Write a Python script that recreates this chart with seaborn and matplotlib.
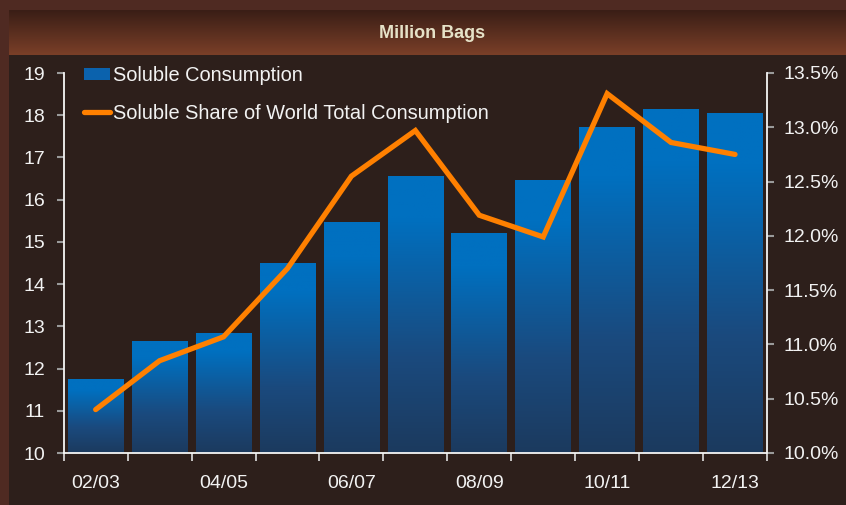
import numpy as np
import pandas as pd
import matplotlib
matplotlib.use("Agg")
import matplotlib.pyplot as plt
import seaborn as sns
from matplotlib.colors import LinearSegmentedColormap, to_rgb
from matplotlib.patches import Patch
from matplotlib.lines import Line2D

# ---- data ----
seasons = ["02/03", "03/04", "04/05", "05/06", "06/07", "07/08",
           "08/09", "09/10", "10/11", "11/12", "12/13"]
consumption = [11.73, 12.63, 12.82, 14.48, 15.45, 16.56,
               15.19, 16.45, 17.72, 18.13, 18.03]
share_pct = [10.40, 10.85, 11.07, 11.70, 12.55, 12.97,
             12.19, 11.99, 13.31, 12.86, 12.75]
left_ticks = list(range(10, 20))
right_ticks = [10.0, 10.5, 11.0, 11.5, 12.0, 12.5, 13.0, 13.5]
bar_label = "Soluble Consumption"
line_label = "Soluble Share of World Total Consumption"
title = "Million Bags"

sns.set_theme(style="white")
plt.rcParams["font.family"] = ["Liberation Sans", "DejaVu Sans"]

FS = 14
W, H = 846, 505
fig = plt.figure(figsize=(W / 100, H / 100), dpi=100)
fig.patch.set_facecolor("#4f2a22")

# dark panel background
bg = fig.add_axes([9 / W, 0, (W - 9) / W, (H - 55) / H])
bg.set_facecolor("#2d1f1b")
bg.set_xticks([]); bg.set_yticks([])
for s in bg.spines.values():
    s.set_visible(False)
bg.set_zorder(-2)

# title band gradient
tb = fig.add_axes([9 / W, 1 - 55 / H, (W - 9) / W, 45 / H])
top_c, bot_c = np.array(to_rgb("#3a1e16")), np.array(to_rgb("#7a3f28"))
t = np.linspace(0, 1, 64)[:, None]
grad = (top_c[None, :] * (1 - t) + bot_c[None, :] * t)[:, None, :]
tb.imshow(grad, aspect="auto", extent=[0, 1, 0, 1], origin="upper")
tb.set_axis_off()
tb.set_zorder(-1)
fig.text(432 / W, 1 - 33 / H, title, ha="center", va="center",
         fontsize=13, fontweight="bold", color="#e6e2c8")

# main axes
ax = fig.add_axes([63.7 / W, 1 - 453 / H, (767 - 63.7) / W, (453 - 73) / H])
ax.set_facecolor("none")
df = pd.DataFrame({"season": seasons, "consumption": consumption,
                   "share": share_pct})
sns.barplot(data=df, x="season", y="consumption", color="#0a66b4",
            width=0.87, ax=ax, saturation=1)

ymin, ymax = 10, 19
cmap = LinearSegmentedColormap.from_list(
    "bar", [(0.0, "#1c3a5e"), (0.35, "#1a4a7e"), (0.85, "#0070c0"), (1.0, "#0070c0")])
gvals = np.linspace(0, 1, 256)[:, None]
for p in list(ax.patches):
    x0 = p.get_x(); w = p.get_width()
    y1 = p.get_y() + p.get_height()
    y0 = max(ymin, p.get_y())
    p.set_facecolor("none"); p.set_edgecolor("none")
    ax.imshow(gvals, cmap=cmap, aspect="auto", origin="lower",
              extent=[x0, x0 + w, y0, y1], zorder=2)

n = len(seasons)
ax.set_xlim(-0.5, n - 0.5)
ax.set_ylim(ymin, ymax)
ax.set_xlabel(""); ax.set_ylabel("")
ax.set_yticks(left_ticks)
ax.set_yticklabels([str(v) for v in left_ticks])
ax.set_xticks(range(n))
ax.set_xticklabels([s if i % 2 == 0 else "" for i, s in enumerate(seasons)])
ax.set_xticks(np.arange(-0.5, n, 1.0), minor=True)
ax.tick_params(axis="x", which="major", length=0, pad=16, labelsize=FS,
               labelcolor="#f2f2f2")
ax.tick_params(axis="x", which="minor", length=6, width=1.2, color="#e0e0e0",
               direction="out", bottom=True)
ax.tick_params(axis="y", which="major", length=5, width=1.5, color="#9a9a9a",
               direction="out", pad=8.5, labelsize=FS, labelcolor="#f2f2f2",
               left=True)
for side in ["top", "right"]:
    ax.spines[side].set_visible(False)
for side in ["left", "bottom"]:
    ax.spines[side].set_color("#f5f5f5")
    ax.spines[side].set_linewidth(1.3)

# secondary axis line
ax2 = ax.twinx()
ax2.set_facecolor("none")
sns.lineplot(x=np.arange(n), y=share_pct, ax=ax2, color="#ff8000",
             linewidth=3.8, solid_capstyle="round", solid_joinstyle="miter")
ax2.set_ylim(10.0, 13.5)
ax2.set_yticks(right_ticks)
ax2.set_yticklabels([f"{v:.1f}%" for v in right_ticks])
ax2.set_xlim(-0.5, n - 0.5)
ax2.tick_params(axis="y", which="major", length=5, width=1.5, color="#9a9a9a",
                direction="out", pad=7, labelsize=FS, labelcolor="#f2f2f2",
                right=True)
for side in ["top", "left", "bottom"]:
    ax2.spines[side].set_visible(False)
ax2.spines["right"].set_color("#f5f5f5")
ax2.spines["right"].set_linewidth(1.3)
ax2.set_ylabel("")

handles = [Patch(facecolor="#0b62ad", edgecolor="none", label=bar_label),
           Line2D([0], [0], color="#ff8000", lw=3.8, solid_capstyle="round",
                  label=line_label)]
leg = ax2.legend(handles=handles, loc="upper left",
                 bbox_to_anchor=(84 / W, 1 - 66 / H),
                 bbox_transform=fig.transFigure, frameon=False,
                 fontsize=14.4, labelspacing=0.95, handlelength=1.3,
                 handletextpad=0.15, borderpad=0, borderaxespad=0,
                 handleheight=0.6)
for txt in leg.get_texts():
    txt.set_color("#f2f2f2")

fig.savefig("out.png", dpi=100, facecolor=fig.get_facecolor())
